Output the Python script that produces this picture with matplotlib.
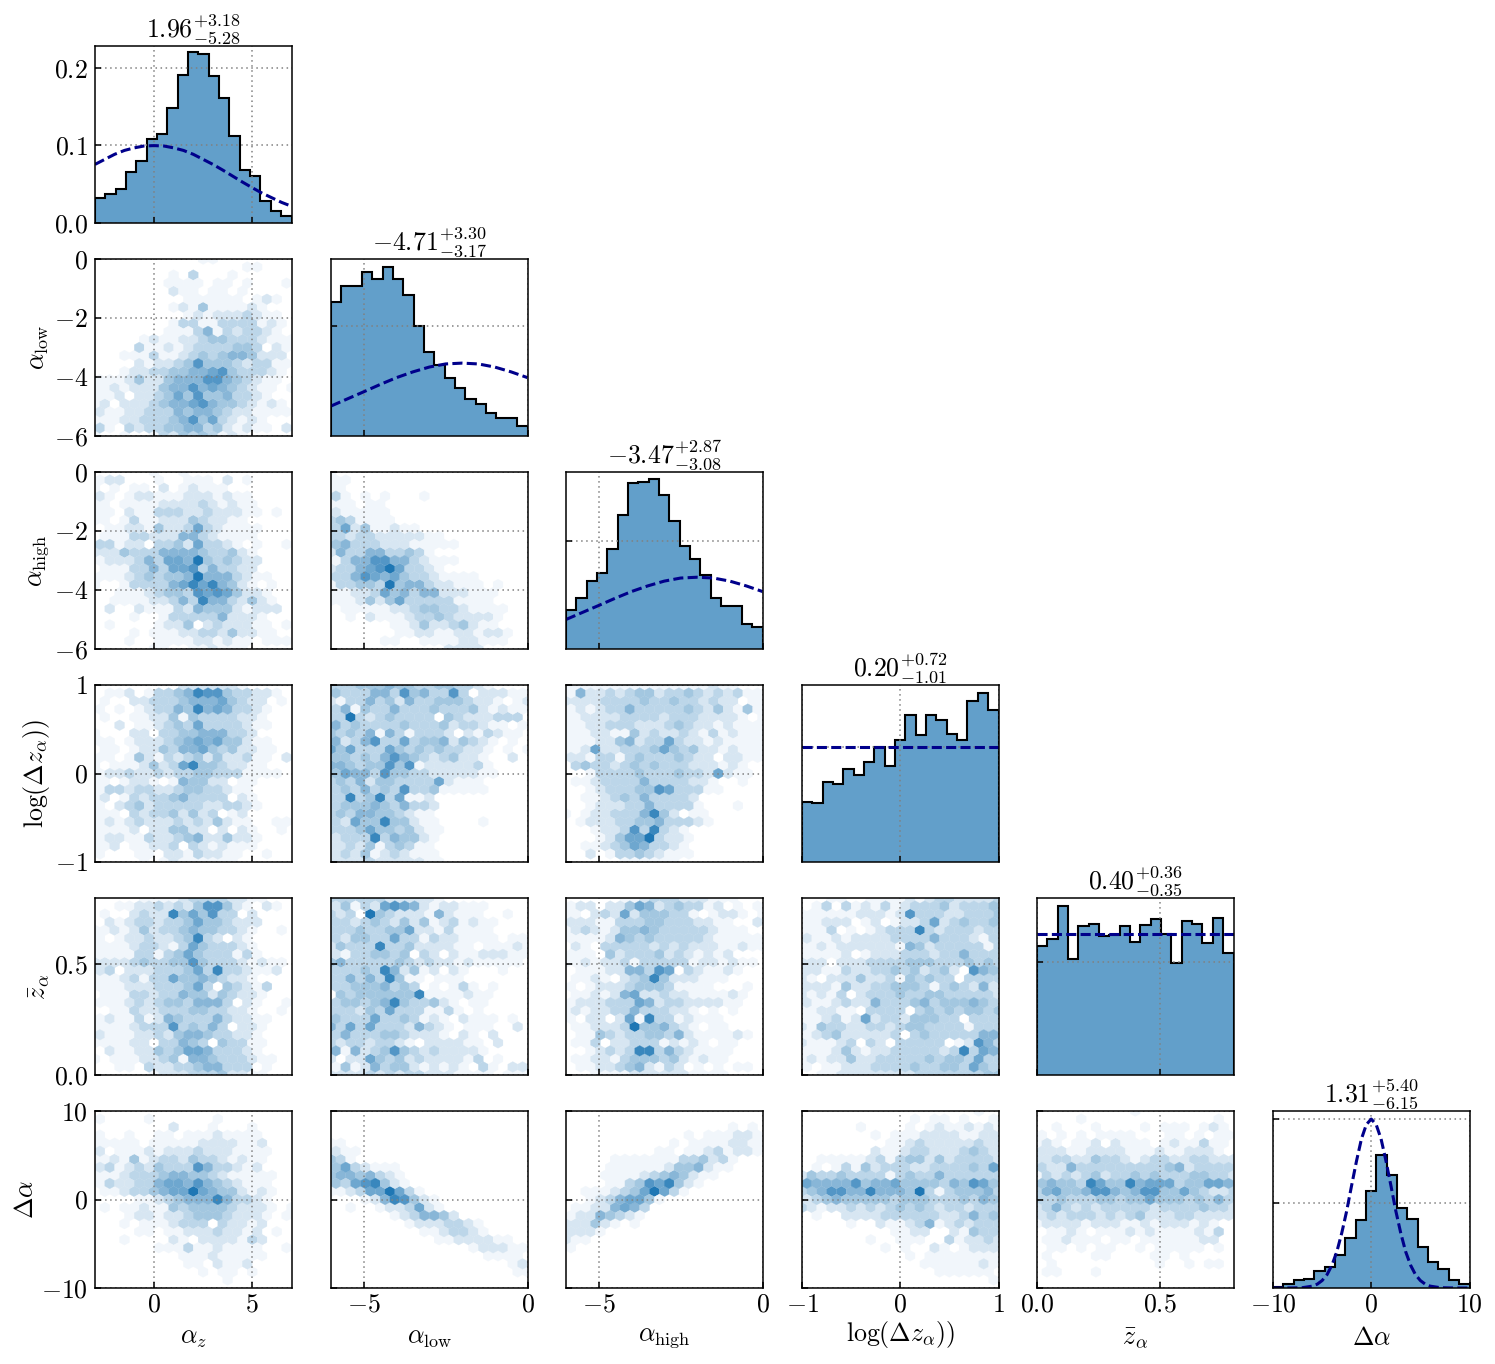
import numpy as np
import matplotlib
matplotlib.use('Agg')
import matplotlib.pyplot as plt
from matplotlib.colors import LinearSegmentedColormap

plt.rcParams['font.family'] = ['cmr10', 'DejaVu Serif']
plt.rcParams['mathtext.fontset'] = 'cm'
plt.rcParams['axes.formatter.use_mathtext'] = True
plt.rcParams['axes.unicode_minus'] = False

# parameter names, ranges and ticks
names = [r'$\alpha_z$', r'$\alpha_{\rm low}$', r'$\alpha_{\rm high}$',
         r'$\log(\Delta z_\alpha))$', r'$\bar{z}_\alpha$', r'$\Delta\alpha$']
limits = [(-3, 7), (-6, 0), (-6, 0), (-1, 1), (0, 0.8), (-10, 10)]
xticks = [[0, 5], [-5, 0], [-5, 0], [-1, 0, 1], [0.0, 0.5], [-10, 0, 10]]
xticklabels = [['0', '5'], ['-5', '0'], ['-5', '0'], ['-1', '0', '1'], ['0.0', '0.5'], ['-10', '0', '10']]
yticks = [[0.0, 0.1, 0.2], [-6, -4, -2, 0], [-6, -4, -2, 0], [-1, 0, 1], [0.0, 0.5], [-10, 0, 10]]
yticklabels = [['0.0', '0.1', '0.2'], ['-6', '-4', '-2', '0'], ['-6', '-4', '-2', '0'],
               ['-1', '0', '1'], ['0.0', '0.5'], ['-10', '0', '10']]
titles = [r'$1.96^{+3.18}_{-5.28}$', r'$-4.71^{+3.30}_{-3.17}$', r'$-3.47^{+2.87}_{-3.08}$',
          r'$0.20^{+0.72}_{-1.01}$', r'$0.40^{+0.36}_{-0.35}$', r'$1.31^{+5.40}_{-6.15}$']

# histogram heights, 19 bins each
hist_az = [.0326, .0378, .0435, .0657, .0796, .1087, .1152, .1483, .1904, .2209,
           .2174, .1891, .1609, .1122, .0687, .0609, .0283, .0152, .0096]
hist_low = [.244, .274, .274, .299, .287, .309, .287, .257, .200, .153,
            .129, .106, .088, .067, .058, .042, .033, .032, .018]
hist_high = [.072, .095, .126, .140, .185, .248, .307, .309, .315, .285,
             .238, .191, .166, .137, .095, .080, .080, .046, .041]
hist_log = [.261, .255, .348, .338, .406, .381, .435, .500, .420, .533,
            .641, .555, .641, .619, .558, .533, .700, .735, .664]
hist_zbar = [1.145, 1.206, 1.501, 1.027, 1.322, 1.345, 1.233, 1.245, 1.324, 1.183,
             1.336, 1.383, 1.251, .991, 1.366, 1.339, 1.168, 1.395, 1.080]
hist_dalpha = [.001, .005, .010, .011, .020, .025, .039, .059, .080, .115,
               .157, .133, .095, .082, .048, .031, .023, .010, .005]
hists = [hist_az, hist_low, hist_high, hist_log, hist_zbar, hist_dalpha]
hist_top = [0.228, 0.323, 0.328, 0.771, 1.572, 0.209]
hist_yticks = [[0.0, 0.1, 0.2], [0.2], [0.2], [0.5], [1.0], [0.1, 0.2]]

# prior curves
prior_az_x = [-3, -2.5, -2, -1.5, -1, -0.5, 0, 0.5, 1, 1.5, 2, 2.5, 3, 3.5, 4, 4.5, 5, 5.5, 6, 6.5, 7]
prior_az_y = [.0755, .082, .0885, .0935, .0968, .0992, .0997, .0992, .0968, .0935, .0885, .082,
              .0755, .0682, .0605, .0528, .0455, .0385, .0325, .0265, .0216]
prior_low_x = [-6, -5.5, -5, -4.5, -4, -3.5, -3, -2.5, -2, -1.5, -1, -0.5, 0]
prior_low_y = [.0547, .0677, .0807, .0940, .1065, .1170, .1258, .1315, .133, .1315, .1258, .1170, .1065]
prior_log_x = [-1, 1]
prior_log_y = [.5, .5]
prior_zbar_x = [0, 0.8]
prior_zbar_y = [1.25, 1.25]
prior_da_x = [-10, -9, -8, -7, -6, -5.5, -5, -4.5, -4, -3.5, -3, -2.5, -2, -1.5, -1, -0.5, 0,
              0.5, 1, 1.5, 2, 2.5, 3, 3.5, 4, 4.5, 5, 5.5, 6, 7, 8, 9, 10]
prior_da_y = [0, 0, .0001, .0004, .0022, .0045, .0088, .0158, .027, .043, .065, .091, .121, .150,
              .176, .193, .1995, .193, .176, .150, .121, .091, .065, .043, .027, .0158, .0088,
              .0045, .0022, .0004, .0001, 0, 0]
priors = [(prior_az_x, prior_az_y), (prior_low_x, prior_low_y), (prior_low_x, prior_low_y),
          (prior_log_x, prior_log_y), (prior_zbar_x, prior_zbar_y), (prior_da_x, prior_da_y)]

# hexagon shades 0-9, top row first, rows alternate 21 and 20 cells
low_az = ["000000000001100000000", "00000000000000011000", "000000001030001000000", "00000001111011010001",
          "000000002110110100000", "00000000011111101210", "000000001214111121000", "00000000012122232110",
          "000000001331133331210", "00000001113513233210", "000001211223443332111", "00003112123333443021",
          "000111311234345542220", "00002122347444323311", "000122334455674333210", "11124224555775432110",
          "112122245575654321101", "11202234647445332100", "120222345567544321210", "21122333545543221111",
          "111223334574632121000", "31032334455342121102", "100100132434312100000"]
high_az = ["000000100100000000000", "12200010011102010000", "101011020121110000000", "21012211122212110000",
           "110111122223212110000", "11021133322322211010", "110131122243221100000", "01122142236321111000",
           "011133222553211110000", "33122033426332101001", "222433355554334210000", "12223536659434322000",
           "011133536673533220000", "11123434459555321100", "100133335686854210100", "00111234437676422100",
           "001111223538553242100", "02002111325444212220", "000010013333352221000", "01000012240232221101",
           "000010111223324221100", "00010011112212110111", "000000110011211100000"]
high_low = ["100000000000000000000", "11000000000000000000", "110000000000000000000", "31010100010000000000",
            "111011000000000000000", "21111100000000000000", "343111100000000000000", "36241121100000000000",
            "332332222211000000000", "45333222111110000000", "253355334310000000000", "13557755321110000000",
            "233567963321000000000", "33576564332111100000", "133443945532211101000", "11223645355222111000",
            "111242463333311110000", "01111122344332111100", "001021112334322221000", "00000011242234211000",
            "000000011221122122100", "00000110011112211100", "000000000000222200000"]
log_az = ["000000000222222100000", "01120133458774332210", "010022333455564322010", "10101233548565332100",
          "010011224143333221000", "00201123436333321100", "100022033445553320000", "11012223456564421100",
          "011012243556434221100", "11014213234242231102", "101112423684432211000", "12232232334433311110",
          "110122101544220110000", "13323322344332110000", "120132334533330210000", "10234233333223321000",
          "111032334242301200000", "12123222323242110011", "111120224422020210010", "12211322345224221000",
          "112011223032121110000", "10001102213221100100", "000001012111111000000"]
log_low = ["333444544334433210000", "43335537453373022211", "213353425334443221012", "35143353334333421211",
           "339323433330432223330", "53433334333423321101", "434351531333202132110", "52357336344524321010",
           "646333643434332210101", "44343575432342210020", "554344747122222310000", "46553744332222211000",
           "343524433336211100000", "34353437334111110000", "338348361120000000000", "34445435332000000000",
           "343554432110000000000", "32644844211000010000", "333464434211000000000", "23338354421000000000",
           "223241343110000000000", "23241232111000000000", "222232222211000000000"]
zbar_az = ["000001111233332211000", "00112232324774210210", "010023228464733020000", "02123323346443222000",
           "112124233454433210010", "10122322348320210000", "111123321364333210000", "11113313464333131000",
           "222234334474333212110", "23022233346383321120", "111231336445432210000", "11122233346304321300",
           "011133233544243221000", "11123234435553021001", "001132233344332210010", "12113125433353221100",
           "111123337343530221000", "21112232455433221000", "111122033543043311000", "02112243466533321000",
           "101112234155433321100", "00110322334553330100", "000000122233342211000"]
zbar_low = ["333333222221000000000", "24132676521221110000", "323094322215211100100", "33234324241231211000",
            "333433446221311110000", "32443363313221111011", "243338334222211011121", "21334434032021122211",
            "453333343232212111110", "33343852412021000100", "335353841101110000000", "33444534301013101000",
            "043444444811112110000", "34434584334210110000", "333243633311310100000", "43336334312102111010",
            "536363332532101110020", "35333443222102102000", "323323321022221102000", "51523474323222210000",
            "202264342322221301000", "14125344212121031022", "222232323322211110111"]
da_az = ["000000000000000000000", "10000100000010000000", "000000002000100010000", "10010011011121111000",
         "111110111112222112000", "20111212223222111100", "112141233243321211000", "23123243337533212000",
         "111233345544321111100", "13223356657543211100", "011233456696544212100", "00001123455585332100",
         "010112114344443222101", "00012212234443222101", "000101112333032212000", "00001101122232212010",
         "000100002102222132000", "00000011131121111001", "000000000111211111000", "00000000011021120000",
         "000000000001011010000", "00000000000001000000", "000000000000000000000"]
da_low = ["000000000000000000000", "00000000000000000000", "000000000000000000000", "00000000000000000000",
          "110000000000000000000", "21100000000000000000", "431000000000000000000", "46321110000000000000",
          "455453210000000000000", "43678421000000000000", "112366963100000000000", "00012587421000000000",
          "001001223621000000000", "00000012355420000000", "000000001222332100000", "00000000011233210000",
          "000000000001122221100", "00000000000000122211", "000000000000000011110", "00000000000000000012",
          "000000000000000000011", "00000000000000000000", "000000000000000000000"]
log_high = ["111111111111111211000", "15223234423343232311", "222233334334332322011", "12123353333343242141",
            "112222333323332222101", "11223332223432212111", "111221142322321312111", "11122452336322121111",
            "112622333464342212111", "22133134333432202211", "034332343433322212100", "00133334333433262110",
            "011233335333322100100", "00123334476333110000", "001123435333320000000", "00122233533331000100",
            "101223335842011000000", "01222334453332100000", "000122373832100000000", "00012466932210000000",
            "001123465332100000000", "00201334321110000000", "000000111111000000000"]
zbar_high = ["000000112333222111000", "12202246523433120101", "110232624443310122101", "22211333443332211002",
             "123212445433333211100", "11112543433333211111", "021033333232322211211", "11104233342321212000",
             "112122313333312212110", "01112255376032112100", "011210234842221110000", "10122234443111100010",
             "011212562232211112100", "12223336523322221100", "121223353332210101000", "10220261833121110000",
             "011222394453210110000", "01143233443521111210", "011302233312121011000", "00123238835321111000",
             "011221344434212110000", "01122345213201010110", "000111122222211110000"]
zbar_log = ["000110011112123322223", "01303121312333423334", "111111222127333223334", "11222012012236234334",
            "111301012333832333233", "21121222233335333213", "112122222215423333313", "11112012223332335333",
            "222022233334443334343", "22113223343423420754", "210222422314343303333", "22214223344431343252",
            "212130233343344333332", "21123225333453444543", "112211033330343434434", "11231262332444330333",
            "214332233234433331333", "12342222230343333355", "211123032033333012753", "11124212233333238365",
            "121224223333343443633", "10112223333433443643", "001122222222333333344"]
da_high = ["000000000000000000000", "00000000000000000000", "000000000000000001010", "00000000000010111221",
           "000000000001011112211", "00000000011011231221", "000001111111334231000", "00001111112445211000",
           "000011112345421100000", "00001134768421000000", "001112346963100000000", "00123566410000000000",
           "011225653000000000000", "12254321000000000000", "222421010000000000000", "22210000000000000000",
           "211000000000000000000", "10000000000000000000", "000000000000000000000", "00000000000000000000",
           "000000000000000000000", "00000000000000000000", "000000000000000000000"]
da_log = ["000000000000000000100", "00000000000101101001", "000000100001012112121", "00000001011122221122",
          "000000000112322222322", "00000002112332223432", "001111123134424233332", "01013142333223333436",
          "243343333134335333333", "65555745564444354764", "345775585554931344453", "23454444434443334354",
          "321223232343432332333", "01002222333333223534", "000001002112351232333", "00000000011220021433",
          "000000010011100312232", "00000000101002101222", "000000000001011111111", "00000000000011111121",
          "000000000000001111110", "00000000000000000001", "000000000000000000000"]
da_zbar = ["000000000010000000000", "00001000000000000010", "001000100001011101210", "10101011110001101011",
           "121011202111012113110", "22211222211121122210", "223322433212332233222", "32253333333334523333",
           "132323423343433344332", "45443864485666344665", "356445775457744643223", "33433344344644434353",
           "235323233333233334332", "23233323234222332222", "122221222112122212100", "01121011121211112130",
           "011211101101111112200", "01101011001011111010", "010000110000110100000", "010000000000100101100",
           "01100010000000000000", "00000000000000000000", "000000000000000000000"]

cells = {(1, 0): low_az, (2, 0): high_az, (2, 1): high_low, (3, 0): log_az, (3, 1): log_low, (3, 2): log_high,
         (4, 0): zbar_az, (4, 1): zbar_low, (4, 2): zbar_high, (4, 3): zbar_log,
         (5, 0): da_az, (5, 1): da_low, (5, 2): da_high, (5, 3): da_log, (5, 4): da_zbar}

W, H = 1495, 1364
lefts = [95, 331, 566, 802, 1037, 1273]
tops = [46, 259, 472, 685, 898, 1111]
ax_w, ax_h = 196.5, 177
fs = 18.6
hist_color = '#1f77b4'
# shade 1 is barely tinted in the reference
cmap = LinearSegmentedColormap.from_list('hex', [(0, 'white'), (1 / 9, '#f1f6fb'), (1, '#1f77b4')])


def draw_hex(ax, rows, xlim, ylim):
    sx = (xlim[1] - xlim[0]) / 20
    sy = (ylim[1] - ylim[0]) / 22
    xs, ys, cs = [], [], []
    for r, row in enumerate(rows):
        shift = 0.5 if r % 2 else 0.0
        for c, ch in enumerate(row):
            if ch != '0':
                xs.append(xlim[0] + (c + shift) * sx)
                ys.append(ylim[1] - r * sy)
                cs.append(int(ch))
    ax.hexbin(xs, ys, C=cs, gridsize=20, extent=(xlim[0], xlim[1], ylim[0], ylim[1]),
              cmap=cmap, vmin=0, vmax=9, linewidths=0.2)


def style(ax):
    ax.grid(True, ls=(0, (1, 2.3)), lw=1.1, color='gray')
    ax.tick_params(direction='in', length=4.5, width=1.1, top=False, right=False,
                   labelsize=fs, pad=5)
    ax.tick_params(axis='x', pad=3.5)
    for sp in ax.spines.values():
        sp.set_linewidth(1.1)


fig = plt.figure(figsize=(W / 100, H / 100), dpi=100)

for i in range(6):
    for j in range(i + 1):
        ax = fig.add_axes([lefts[j] / W, 1 - (tops[i] + ax_h) / H, ax_w / W, ax_h / H])
        xlim = limits[j]
        if i == j:
            edges = np.linspace(xlim[0], xlim[1], len(hists[i]) + 1)
            ax.stairs(hists[i], edges, fill=True, color=hist_color, alpha=0.7, lw=0)
            ax.stairs(hists[i], edges, color='black', lw=1.5)
            ax.plot(priors[i][0], priors[i][1], color='darkblue', ls=(0, (3.3, 1.4)), lw=2.2)
            ax.set_ylim(0, hist_top[i])
            ax.set_yticks(hist_yticks[i])
            ax.set_title(titles[i], fontsize=fs, pad=3)
        else:
            draw_hex(ax, cells[(i, j)], xlim, limits[i])
            ax.set_ylim(limits[i])
            ax.set_yticks(yticks[i])
        ax.set_xlim(xlim)
        ax.set_xticks(xticks[j])
        style(ax)
        if i == 5:
            ax.set_xticklabels(['$%s$' % s for s in xticklabels[j]])
            ax.set_xlabel(names[j], fontsize=fs, labelpad=2 if j == 3 else 7)
        else:
            ax.set_xticklabels([])
        if j == 0:
            ax.set_yticklabels(['$%s$' % s for s in yticklabels[i]])
            if i > 0:
                ax.set_ylabel(names[i], fontsize=fs, labelpad=2)
        else:
            ax.set_yticklabels([])

fig.savefig('out.png', dpi=100, facecolor='white')
